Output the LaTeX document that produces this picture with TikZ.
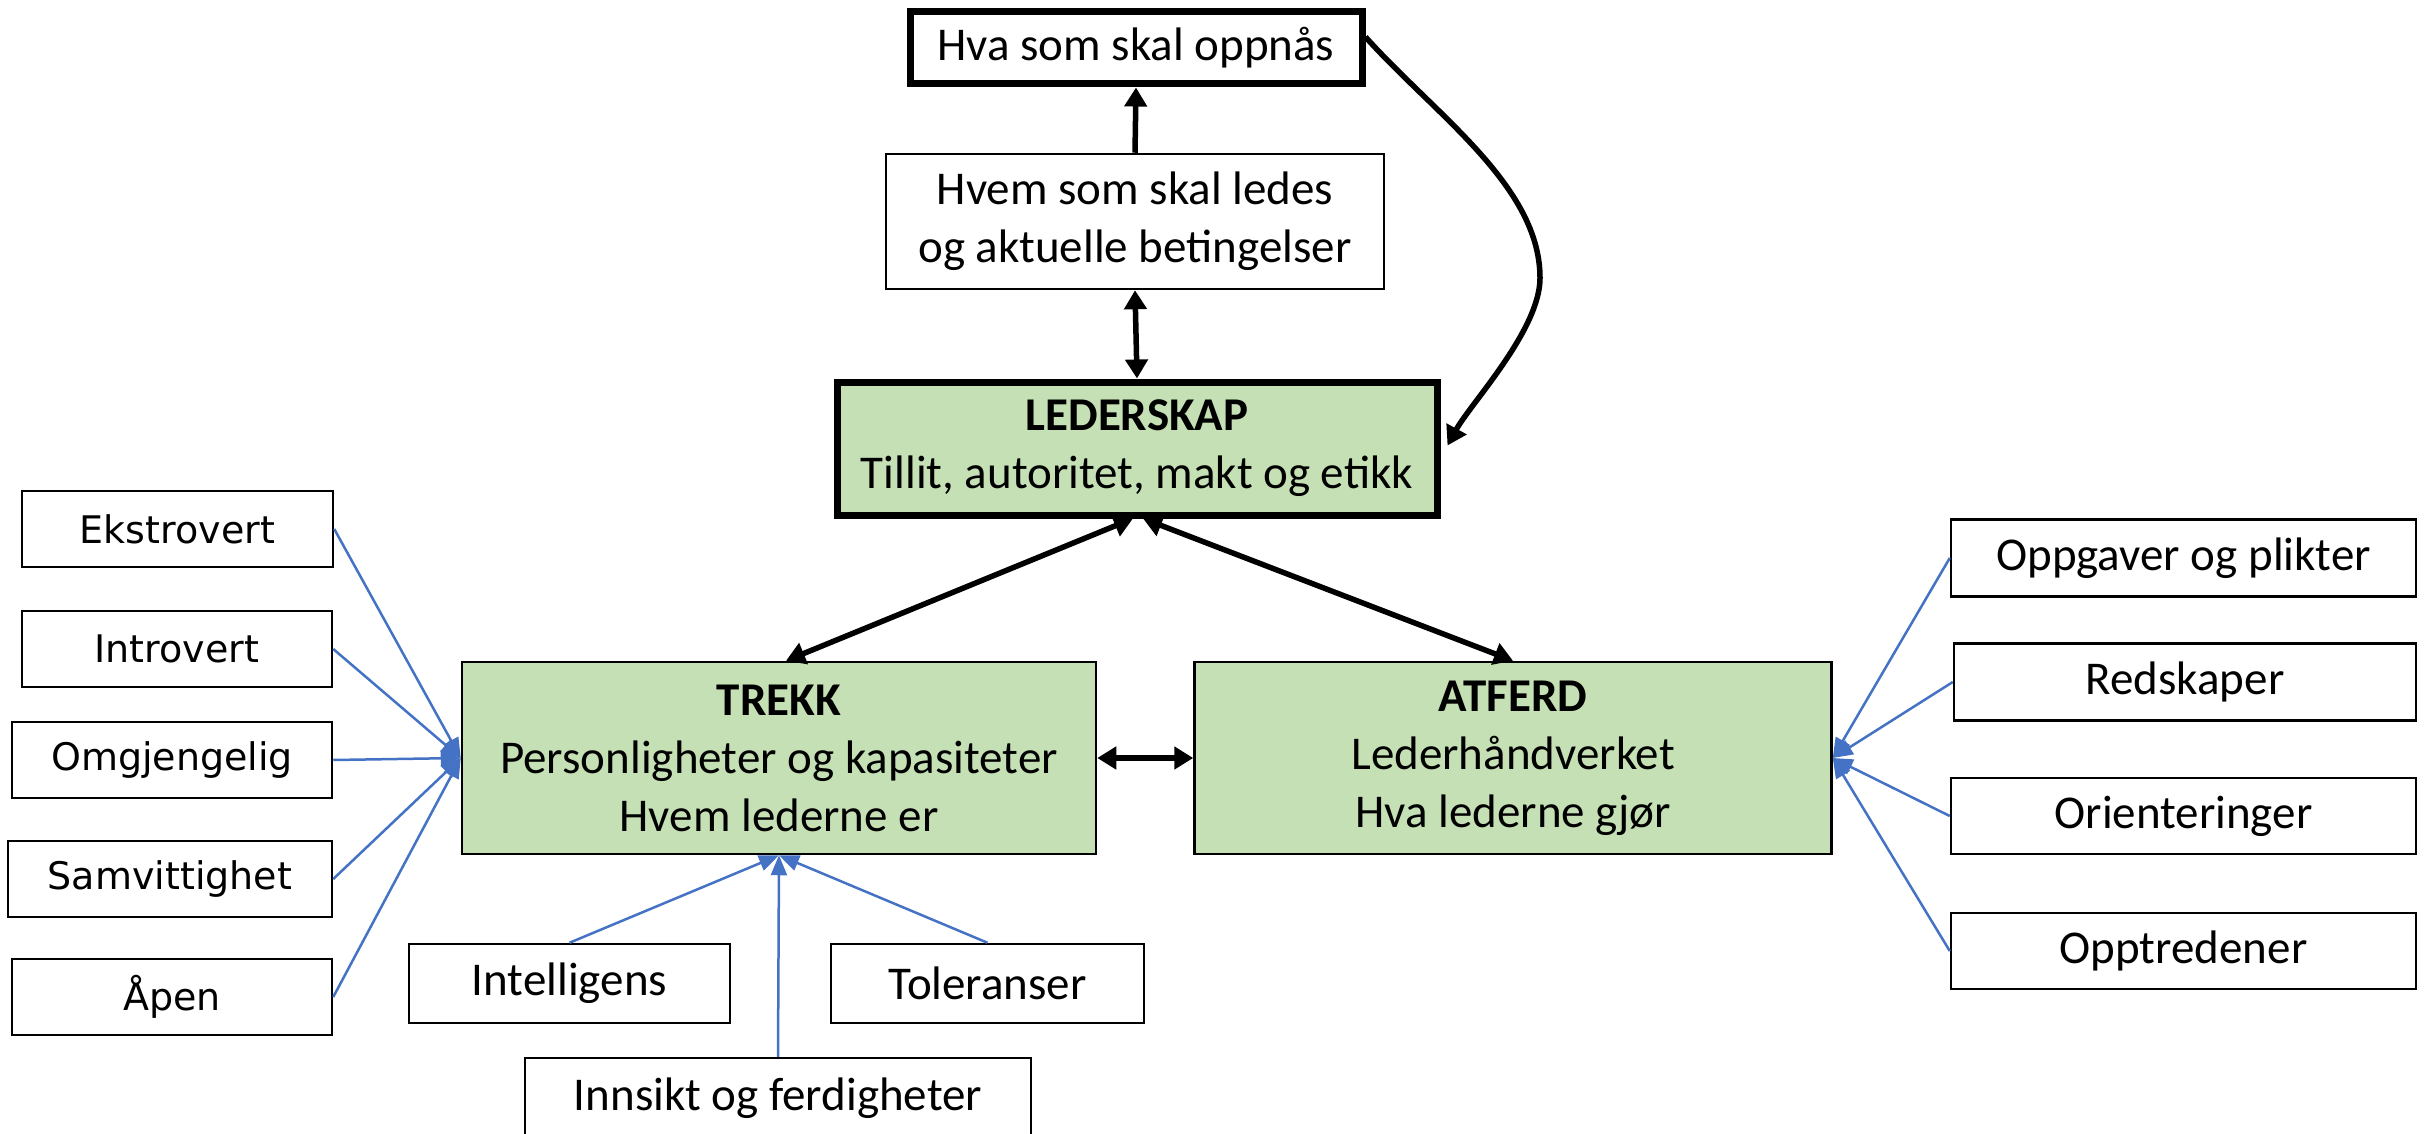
\documentclass[tikz,border=0pt]{standalone}
\usepackage{fontspec}
\setmainfont{Carlito}
\newfontfamily\dvs{DejaVu Sans}
\usetikzlibrary{arrows.meta}
\definecolor{grn}{HTML}{C5E0B4}
\definecolor{blu}{HTML}{4472C4}
\tikzset{
  box/.style={draw=black, line width=2.5pt, fill=white, inner sep=0pt, align=center,
    font=\fontsize{47}{58}\selectfont},
  thickbox/.style={box, line width=7pt},
  greenbox/.style={box, fill=grn},
  leftbox/.style={box, font=\dvs\fontsize{38}{46}\selectfont, minimum height=76pt},
  rightbox/.style={box, minimum height=77pt, minimum width=465pt},
  blk/.style={line width=5.5pt, black},
  bth/.tip={Triangle[length=19pt,width=22pt]},
  blh/.tip={Triangle[length=20pt,width=16pt]},
  bl/.style={line width=2.5pt, blu, -blh},
}
\begin{document}
\begin{tikzpicture}[x=1pt,y=-1pt]
\useasboundingbox (0,0) rectangle (2430,1134);
% top
\node[thickbox, minimum width=452pt, minimum height=72pt] (hva) at (1136,48) {Hva som skal oppnås};
\node[box, minimum width=498pt, minimum height=135pt] (hvem) at (1135,221.5) {Hvem som skal ledes\\og aktuelle betingelser};
\node[thickbox, fill=grn, minimum width=600pt, minimum height=133pt] (led) at (1137,448.5) {\textbf{LEDERSKAP}\\Tillit, autoritet, makt og etikk};
\node[greenbox, minimum width=634pt, minimum height=192pt] (trekk) at (779,758) {\textbf{TREKK}\\Personligheter og kapasiteter\\Hvem lederne er};
\node[greenbox, minimum width=637pt, minimum height=192pt] (atf) at (1513,758) {\textbf{ATFERD}\\Lederhåndverket\\Hva lederne gjør};
% left
\node[leftbox, minimum width=311pt] (eks) at (177.5,529) {Ekstrovert};
\node[leftbox, minimum width=310pt] (intro) at (177,649) {Introvert};
\node[leftbox, minimum width=320pt] (omg) at (172,760) {Omgjengelig};
\node[leftbox, minimum width=324pt] (sam) at (170,879) {Samvittighet};
\node[leftbox, minimum width=320pt] (apen) at (172,997) {Åpen};
% bottom
\node[box, minimum width=321pt, minimum height=79pt] (intel) at (569.5,983.5) {Intelligens};
\node[box, minimum width=313pt, minimum height=79pt] (tol) at (987.5,983.5) {Toleranser};
\node[box, minimum width=506pt, minimum height=80pt] (inn) at (778,1098) {Innsikt og ferdigheter};
% right
\node[rightbox] (opp) at (2183.5,558) {Oppgaver og plikter};
\node[rightbox, minimum width=462pt] (red) at (2185,682) {Redskaper};
\node[rightbox, minimum height=76pt] (ori) at (2183.5,816) {Orienteringer};
\node[rightbox, minimum height=76pt] (opt) at (2183.5,951) {Opptredener};
% black connectors
\draw[blk, -bth] (hvem.north) -- (hva.south);
\draw[blk, bth-bth] (hvem.south) -- (led.south |- led.north);
\draw[blk, bth-bth] ([xshift=-4pt]led.south) -- ([xshift=7pt]trekk.north);
\draw[blk, bth-bth] ([xshift=6pt]led.south) -- (atf.north);
\draw[blk, bth-bth] (trekk.east) -- (atf.west);
\draw[blk, -bth] ([yshift=11pt]hva.east) .. controls +(70,78) and (1540,186) .. (1540,278)
   .. controls (1540,330) and ([xshift=30pt,yshift=45pt]led.east) .. ([xshift=7pt,yshift=3pt]led.east);
% blue connectors
\foreach \n in {eks,intro,omg,sam,apen} \draw[bl] (\n.east) -- (trekk.west);
\foreach \n in {intel,tol,inn} \draw[bl] (\n.north) -- (trekk.south);
\foreach \n in {opp,red,ori,opt} \draw[bl] (\n.west) -- (atf.east);
\end{tikzpicture}
\end{document}
